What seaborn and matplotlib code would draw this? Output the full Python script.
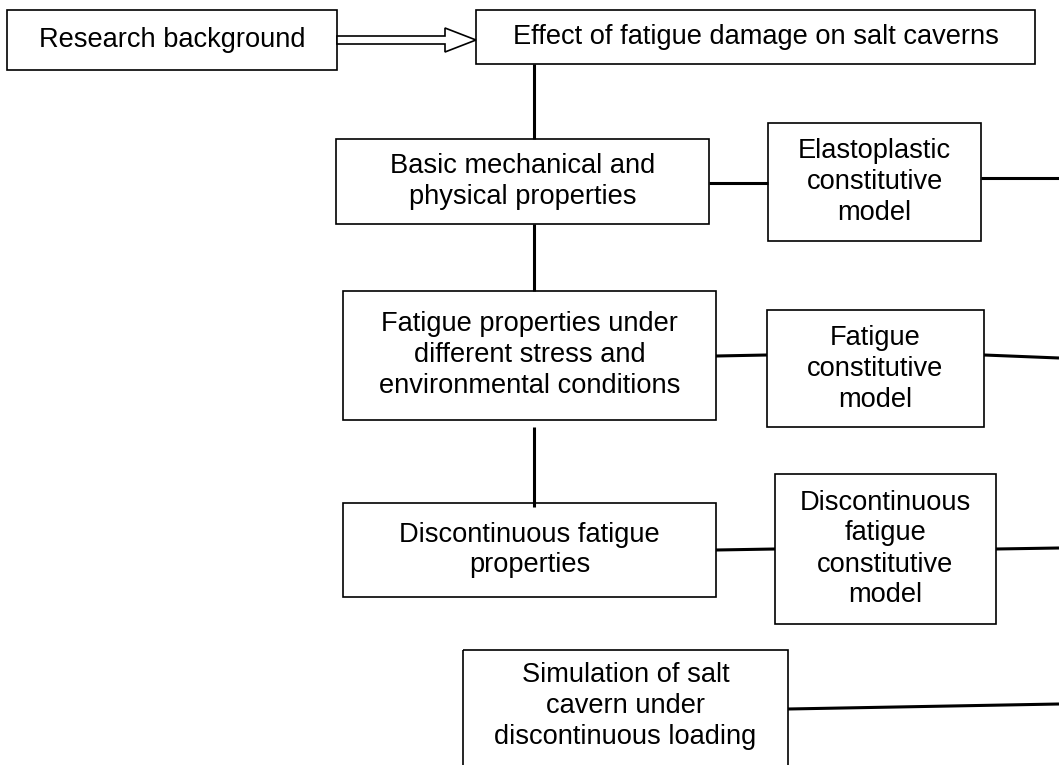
import matplotlib
matplotlib.use("Agg")
import matplotlib.pyplot as plt
from matplotlib.patches import Rectangle, FancyArrow
import seaborn as sns

# Тексты блоков схемы
labels = [
    "Research background",
    "Effect of fatigue damage on salt caverns",
    "Basic mechanical and\nphysical properties",
    "Elastoplastic\nconstitutive\nmodel",
    "Fatigue properties under\ndifferent stress and\nenvironmental conditions",
    "Fatigue\nconstitutive\nmodel",
    "Discontinuous fatigue\nproperties",
    "Discontinuous\nfatigue\nconstitutive\nmodel",
    "Simulation of salt\ncavern under\ndiscontinuous loading",
]

# Геометрия блоков (x0, y0, x1, y1) в пикселях, y вниз
boxes = [
    (7, 10, 337, 70),
    (476, 10, 1035, 64),
    (336, 139, 709, 224),
    (768, 123, 981, 241),
    (343, 291, 716, 420),
    (767, 310, 984, 427),
    (343, 503, 716, 597),
    (775, 474, 996, 624),
    (463, 650, 788, 780),
]
text_y = [40, 37, 181, 182, 355, 369, 550, 549, 706]

# Соединительные линии
links = [
    ((534, 534), (64, 139)),
    ((534, 534), (224, 291)),
    ((534, 534), (427, 507)),
    ((709, 768), (183, 183)),
    ((981, 1059), (178, 178)),
    ((716, 767), (356, 355)),
    ((984, 1059), (355, 358)),
    ((716, 775), (550, 549)),
    ((996, 1059), (549, 548)),
    ((788, 1059), (709, 704)),
]

sns.set_theme(style="white")
plt.rcParams['font.family'] = ['Liberation Sans', 'DejaVu Sans']

fig = plt.figure(figsize=(10.59, 7.65), dpi=100)
ax = fig.add_axes([0, 0, 1, 1])
ax.set_xlim(0, 1059)
ax.set_ylim(765, 0)
ax.axis('off')

for (x0, y0, x1, y1), lab, ty in zip(boxes, labels, text_y):
    ax.add_patch(Rectangle((x0, y0), x1 - x0, y1 - y0, fill=False,
                           edgecolor='black', linewidth=1.2))
    ax.text((x0 + x1) / 2, ty, lab, ha='center', va='center',
            fontsize=19.6, color='black', linespacing=1.25)

for xs, ys in links:
    ax.plot(xs, ys, color='black', linewidth=2.2, solid_capstyle='butt')

# Двойная стрелка
ax.add_patch(FancyArrow(337, 40, 139, 0, width=8, head_width=24,
                        head_length=31, length_includes_head=True,
                        facecolor='white', edgecolor='black', linewidth=1.2))

fig.savefig("out.png", dpi=100)
